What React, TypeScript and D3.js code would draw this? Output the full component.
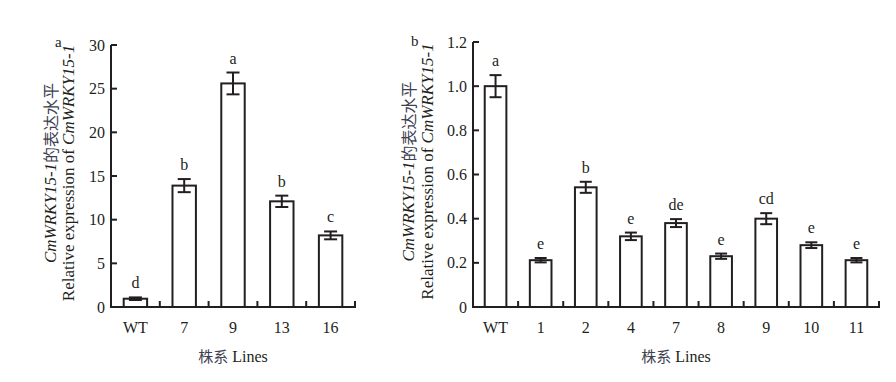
import React from 'react';
import * as d3 from 'd3';

const leftCats = ['WT', '7', '9', '13', '16'];
const leftVals = [0.95, 13.9, 25.6, 12.1, 8.2];
const leftErr = [0.15, 0.75, 1.25, 0.65, 0.45];
const leftSig = ['d', 'b', 'a', 'b', 'c'];
const leftTicks = [0, 5, 10, 15, 20, 25, 30];

const rightCats = ['WT', '1', '2', '4', '7', '8', '9', '10', '11'];
const rightVals = [1.0, 0.212, 0.542, 0.32, 0.38, 0.23, 0.4, 0.28, 0.212];
const rightErr = [0.05, 0.01, 0.025, 0.017, 0.018, 0.012, 0.025, 0.013, 0.01];
const rightSig = ['a', 'e', 'b', 'e', 'de', 'e', 'cd', 'e', 'e'];
const rightTicks = [0, 0.2, 0.4, 0.6, 0.8, 1.0, 1.2];

const INK = '#231f20';
const SERIF = { fontFamily: "'Liberation Serif', 'Times New Roman', Times, serif" };
const CJKS = { fontFamily: "'Noto Sans CJK SC', sans-serif" };

type PanelProps = {
  cats: string[];
  vals: number[];
  errs: number[];
  sig: string[];
  ticks: number[];
  yMax: number;
  fmt: (v: number) => string;
  x0: number;
  x1: number;
  y0: number;
  y1: number;
  barFrac: number;
  capW: number;
  label: string;
  labelX: number;
  labelY: number;
  line1X: number;
  line2X: number;
  titleY: number;
};

function Panel(p: PanelProps) {
  const x = d3.scaleBand<string>().domain(p.cats).range([p.x0, p.x1]).padding(0);
  const y = d3.scaleLinear().domain([0, p.yMax]).range([p.y0, p.y1]);
  const bw = x.bandwidth() * p.barFrac;
  const boundaries = p.cats.map((c) => (x(c) as number) + x.bandwidth());
  const midX = (p.x0 + p.x1) / 2;
  const midY = (p.y0 + p.y1) / 2 - 3;
  return (
    <g>
      <text x={p.labelX} y={p.labelY} style={SERIF} fontSize={15} fill={INK}>{p.label}</text>
      <line x1={p.x0} x2={p.x0} y1={p.y0 + 1} y2={p.y1} stroke={INK} strokeWidth={2} />
      {p.ticks.map((t) => (
        <g key={t}>
          <line x1={p.x0} x2={p.x0 + 6} y1={y(t)} y2={y(t)} stroke={INK} strokeWidth={2} />
          <text x={p.x0 - 6} y={y(t)} textAnchor="end" dominantBaseline="central" style={SERIF} fontSize={16} fill={INK}>{p.fmt(t)}</text>
        </g>
      ))}
      <line x1={p.x0 - 1} x2={p.x1 + 1} y1={p.y0} y2={p.y0} stroke={INK} strokeWidth={2} />
      {boundaries.map((bx, i) => (
        <line key={i} x1={bx} x2={bx} y1={p.y0} y2={p.y0 - 6} stroke={INK} strokeWidth={2} />
      ))}
      {p.cats.map((c, i) => {
        const cx = (x(c) as number) + x.bandwidth() / 2;
        const top = y(p.vals[i]);
        const eHi = y(p.vals[i] + p.errs[i]);
        const eLo = y(p.vals[i] - p.errs[i]);
        return (
          <g key={c}>
            <rect x={cx - bw / 2} y={top} width={bw} height={p.y0 - top} fill="#fff" stroke={INK} strokeWidth={2} />
            <line x1={cx} x2={cx} y1={eHi} y2={eLo} stroke={INK} strokeWidth={2} />
            <line x1={cx - p.capW / 2} x2={cx + p.capW / 2} y1={eHi} y2={eHi} stroke={INK} strokeWidth={2} />
            <line x1={cx - p.capW / 2} x2={cx + p.capW / 2} y1={eLo} y2={eLo} stroke={INK} strokeWidth={2} />
            <text x={cx} y={eHi - 9} textAnchor="middle" style={SERIF} fontSize={16} fill={INK}>{p.sig[i]}</text>
            <text x={cx} y={p.y0 + 26} textAnchor="middle" style={SERIF} fontSize={16} fill={INK}>{c}</text>
          </g>
        );
      })}
      <text x={midX} y={p.titleY} textAnchor="middle" style={SERIF} fontSize={16} fill={INK}>
        <tspan style={CJKS} fontSize={15} fill="#3d4150">株系</tspan>
        <tspan style={SERIF}> Lines</tspan>
      </text>
      <text transform={`translate(${p.line1X},${midY}) rotate(-90)`} textAnchor="middle" dominantBaseline="central" style={SERIF} fontSize={17} fill={INK}>
        <tspan style={SERIF} fontStyle="italic">CmWRKY15-1</tspan>
        <tspan style={CJKS} fontSize={16} fill="#3d4150">的表达水平</tspan>
      </text>
      <text transform={`translate(${p.line2X},${midY}) rotate(-90)`} textAnchor="middle" dominantBaseline="central" style={SERIF} fontSize={17} fill={INK}>
        <tspan style={SERIF}>Relative expression of </tspan>
        <tspan style={SERIF} fontStyle="italic">CmWRKY15-1</tspan>
      </text>
    </g>
  );
}

export default function App() {
  return (
    <svg width={896} height={382} style={{ position: 'absolute', left: 0, top: 0, background: '#fff' }}>
      <rect x={0} y={0} width={896} height={382} fill="#fff" />
      <Panel
        cats={leftCats}
        vals={leftVals}
        errs={leftErr}
        sig={leftSig}
        ticks={leftTicks}
        yMax={30}
        fmt={(v) => String(v)}
        x0={111}
        x1={355}
        y0={307}
        y1={45}
        barFrac={0.48}
        capW={13}
        label="a"
        labelX={55}
        labelY={47}
        line1X={50}
        line2X={68}
        titleY={362}
      />
      <Panel
        cats={rightCats}
        vals={rightVals}
        errs={rightErr}
        sig={rightSig}
        ticks={rightTicks}
        yMax={1.2}
        fmt={(v) => (v === 0 ? '0' : v.toFixed(1))}
        x0={473}
        x1={879}
        y0={307}
        y1={42}
        barFrac={0.48}
        capW={12}
        label="b"
        labelX={411}
        labelY={46}
        line1X={408}
        line2X={427}
        titleY={362}
      />
    </svg>
  );
}
